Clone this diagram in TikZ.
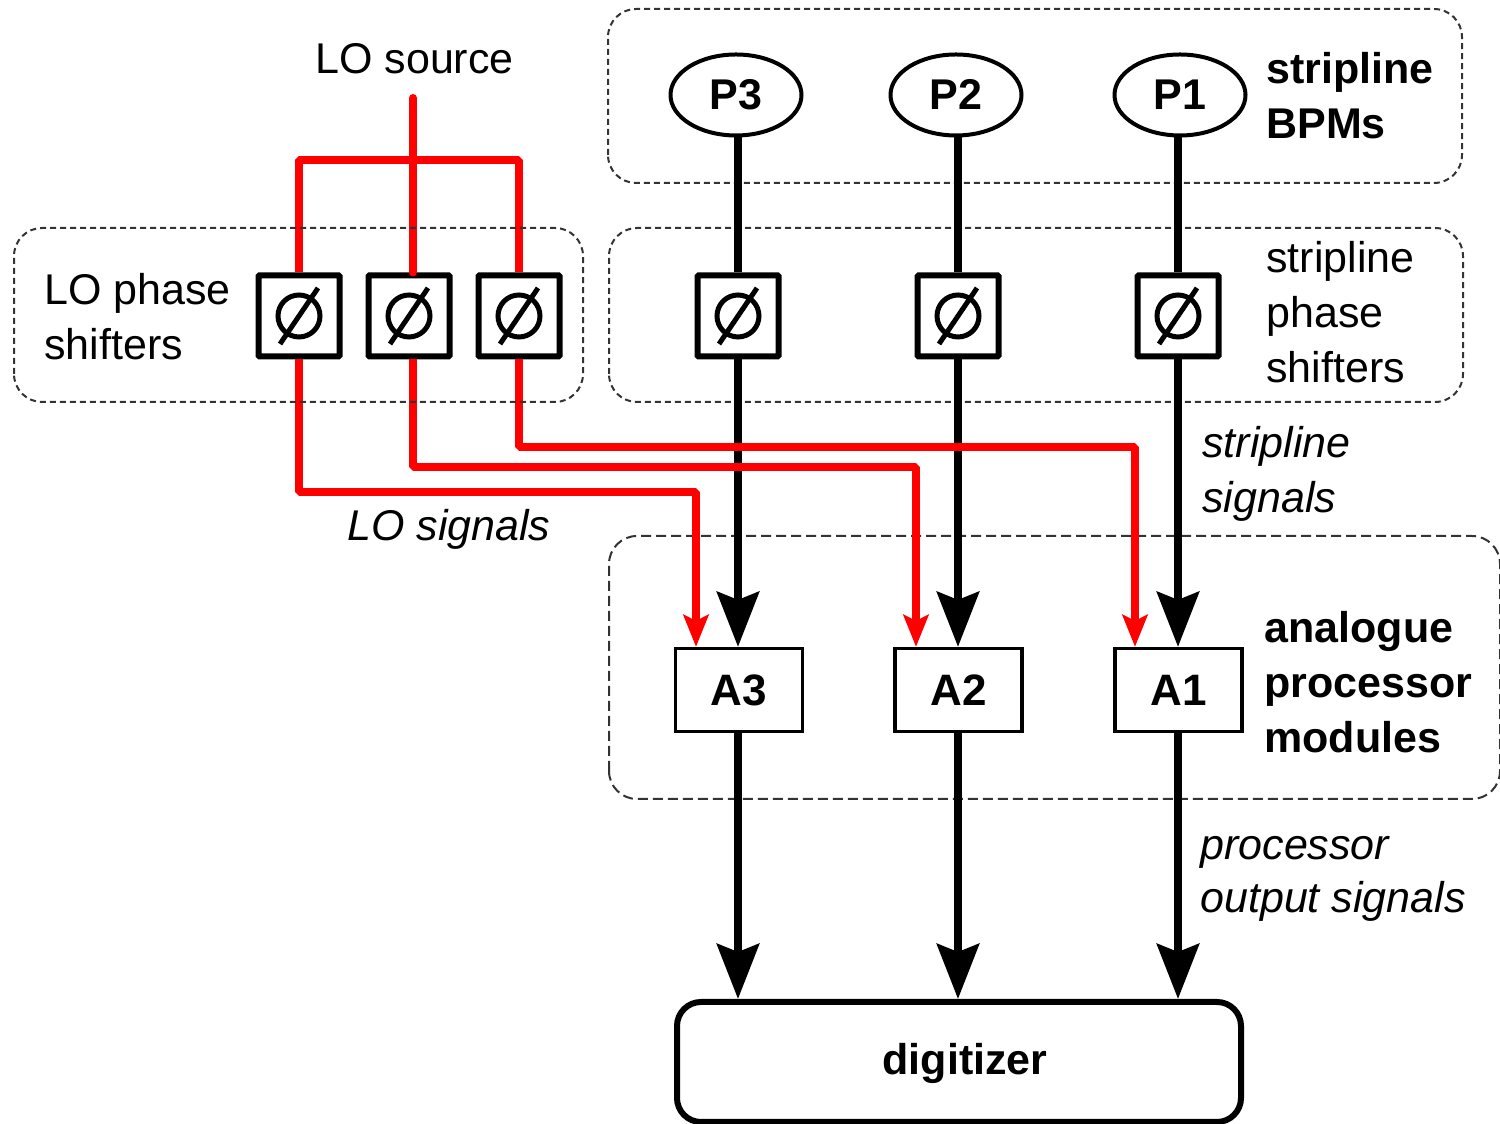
\documentclass[tikz,border=0pt]{standalone}
\usepackage{fontspec}
\setmainfont{Liberation Sans}
\usetikzlibrary{positioning}
\usetikzlibrary{arrows.meta}
\usetikzlibrary{shapes.geometric}
\usetikzlibrary{calc}
\tikzset{
  region/.style={draw=black!80, line width=1pt, dash pattern=on 3pt off 2pt, rounded corners=14pt},
  regionwide/.style={region, dash pattern=on 5pt off 2.5pt},
  bpm/.style={draw, ellipse, line width=2pt, minimum width=65.5pt, minimum height=40.5pt, inner sep=0pt, font=\fontsize{21.5pt}{26pt}\selectfont\bfseries},
  shifter/.style={draw, line width=3pt, rounded corners=0.5pt, minimum size=40.5pt, inner sep=0pt},
  proc/.style={draw, line width=1.6pt, minimum width=63.5pt, minimum height=41.5pt, inner sep=0pt, font=\fontsize{22pt}{26pt}\selectfont\bfseries},
  sigline/.style={line width=4pt},
  sig/.style={sigline, -{Stealth[length=27.5pt,width=21pt,inset=4pt]}},
  lobus/.style={draw=red, line width=4pt, line join=bevel},
  losig/.style={lobus, -{Stealth[length=16pt,width=12.5pt,inset=3pt]}},
  phiring/.style={line width=2.5pt},
  txt/.style={align=left, anchor=west, inner sep=0pt, font=\fontsize{21.5pt}{27.5pt}\selectfont},
  txtb/.style={txt, font=\fontsize{21.5pt}{27.5pt}\selectfont\bfseries},
  txti/.style={txt, font=\fontsize{21.5pt}{27.5pt}\selectfont\itshape}
}
\begin{document}
\begin{tikzpicture}[x=1pt,y=1pt]
  \useasboundingbox (0,0) rectangle (750,562);

  % Regions
  \draw[region] (304,470.5) rectangle (731,557.5);
  \draw[region] (304.5,361) rectangle (731.5,448);
  \draw[regionwide] (304.5,162.5) rectangle (750,294);

  % Pickups
  \node[bpm] (P3) at (368,514.5) {P3};
  \node[bpm] (P2) at (478,514.5) {P2};
  \node[bpm] (P1) at (590,514.5) {P1};

  % Phase shifters
  \foreach \name/\x in {LA/149.5, LB/204.5, LC/259.5, S3/369, S2/479, S1/589}{
    \node[shifter] (\name) at (\x,404) {};
    \draw[phiring] (\name) circle (10.5pt);
    \draw[phiring] ($(\name)+(-9.5,-14)$) -- ($(\name)+(9.5,14)$);
  }

  % Processors
  \node[proc] (A3) at (369.5,217) {A3};
  \node[proc] (A2) at (479.25,217) {A2};
  \node[proc] (A1) at (589.25,217) {A1};

  % Digitizer
  \node[draw, line width=3pt, rounded corners=12pt, minimum width=282pt, minimum height=60pt, inner sep=0pt, font=\fontsize{21.5pt}{26pt}\selectfont\bfseries] (dig) at (479.5,31) {\raisebox{-6.5pt}[0pt][0pt]{\hspace*{6pt}digitizer}};

  % Black signals
  \foreach \p/\s/\a in {P3/S3/A3, P2/S2/A2, P1/S1/A1}{
    \draw[sigline] (\p.south -| \s) -- (\s.north);
    \draw[sig] (\s.south) -- (\s |- \a.north);
    \draw[sig] (\s |- \a.south) -- (\s |- dig.north);
  }

  % LO signals
  \coordinate (src) at (206.5,513);
  \coordinate (busL) at (LA.north |- 0,482);
  \coordinate (busR) at (LC.north |- 0,482);
  \coordinate (t3) at (348,316);
  \coordinate (t2) at (458,328.5);
  \coordinate (t1) at (567.5,338.5);
  \draw[lobus, line cap=round] (src) -- (src |- LB.north);
  \draw[lobus] (LA.north) -- (busL) -- (busR) -- (LC.north);
  \draw[losig] (LA.south) |- (t3) -- (t3 |- A3.north);
  \draw[losig] (src |- LB.south) |- (t2) -- (t2 |- A2.north);
  \draw[losig] (LC.south) |- (t1) -- (t1 |- A1.north);

  % Region on top of the LO lines
  \draw[region] (7,361) rectangle (291.5,448);

  % Labels
  \node[txt] (lsrc) at (157.5,532.5) {LO source};
  \node[txt] (lphase) at (22,403.5) {LO phase\\shifters};
  \node[txtb] (lbpm) at (633,514) {stripline\\BPMs};
  \node[txt] (lshift) at (633,406) {stripline\\phase\\shifters};
  \node[txti] (lsig) at (601,325) {stripline\\signals};
  \node[txti] (llo) at (173.5,297.5) {LO signals};
  \node[txtb] (lproc) at (632,221) {analogue\\processor\\modules};
  \node[txti, font=\fontsize{21.5pt}{26.5pt}\selectfont\itshape] (lout) at (600,122.5) {processor\\output signals};
\end{tikzpicture}
\end{document}
